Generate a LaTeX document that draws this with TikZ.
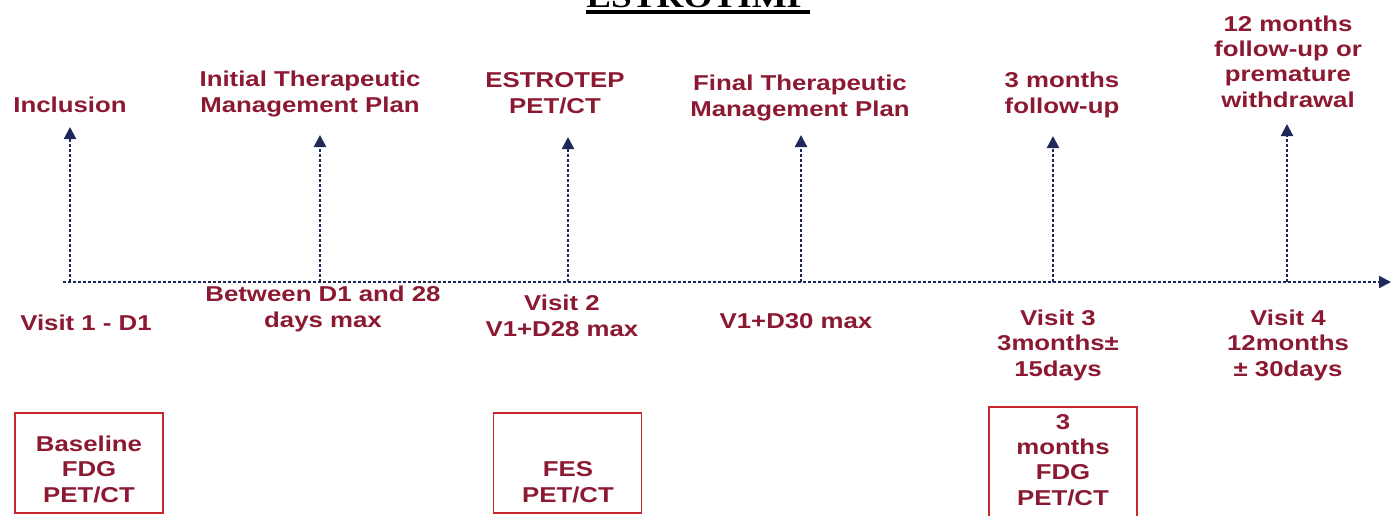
\documentclass[tikz,border=0pt]{standalone}
\usepackage{fontspec}
\setmainfont{Liberation Sans}
\newfontfamily\labfont[FakeStretch=1.2]{Liberation Sans}
\newfontfamily\titlefont[FakeStretch=1.2]{Liberation Serif}
\usetikzlibrary{arrows.meta}
\definecolor{txtred}{RGB}{140,25,50}
\definecolor{boxred}{RGB}{200,40,45}
\definecolor{navy}{RGB}{30,40,90}
\begin{document}
\begin{tikzpicture}[x=0.5pt,y=-0.5pt,
 lab/.style={font=\labfont\bfseries\fontsize{10.75}{12.6}\selectfont, text=txtred, align=center, inner sep=0pt, anchor=base},
 dline/.style={draw=navy, line width=1.1pt, dash pattern=on 1.6pt off 0.9pt},
 arr/.style={dline, -{Triangle[width=6pt,length=6pt]}},
 pbox/.style={draw=boxred, line width=0.9pt, minimum width=74pt, inner sep=0pt}]
\clip (0,0) rectangle (1392,515);
% title
\node[font=\titlefont\bfseries\fontsize{15.5}{18}\selectfont, anchor=base, inner sep=0pt] (title) at (698,7) {ESTROTIMP};
\draw[line width=1.8pt] ([yshift=-2.6pt]title.base west) -- ([yshift=-2.6pt]title.base east);
% timeline
\coordinate (s) at (63,282);
\coordinate (e) at (1391,282);
\draw[arr] (s) -- (e);
\foreach \n/\x/\t in {1/70/127, 2/320/135, 3/568/137, 4/801/135, 5/1053/136, 6/1287/124}{
  \coordinate (a\n) at (\x,282);
  \coordinate (t\n) at (\x,\t);
  \draw[arr] (a\n) -- (t\n);
}
% labels above (anchor = baseline of last line)
\node[lab] (l1) at (70,112) {Inclusion};
\node[lab] (l2) at (310,112) {Initial Therapeutic\\Management Plan};
\node[lab] (l3) at (555,113) {ESTROTEP\\PET/CT};
\node[lab] (l4) at (800,116) {Final Therapeutic\\Management Plan};
\node[lab] (l5) at (1062,113) {3 months\\follow-up};
\node[lab] (l6) at (1288,107) {12 months\\follow-up or\\premature\\withdrawal};
% labels below
\node[lab] (d1) at (86,330) {Visit 1 - D1};
\node[lab] (d2) at (323,327) {Between D1 and 28\\days max};
\node[lab] (d3) at (562,336) {Visit 2\\V1+D28 max};
\node[lab] (d4) at (796,328) {V1+D30 max};
\node[lab] (d5) at (1058,376) {Visit 3\\3months\textpm\\15days};
\node[lab] (d6) at (1288,376) {Visit 4\\12months\\\textpm\ 30days};
% boxes
\node[pbox, minimum height=50pt] (b1) at (89,463) {};
\node[pbox, minimum height=50pt] (b2) at (567.5,463) {};
\node[pbox, minimum height=60pt] (b3) at (1063,467) {};
\node[lab] (bt1) at (89,502) {Baseline\\FDG\\PET/CT};
\node[lab] (bt2) at (568,502) {FES\\PET/CT};
\node[lab] (bt3) at (1063,505) {3\\months\\FDG\\PET/CT};
\end{tikzpicture}
\end{document}
